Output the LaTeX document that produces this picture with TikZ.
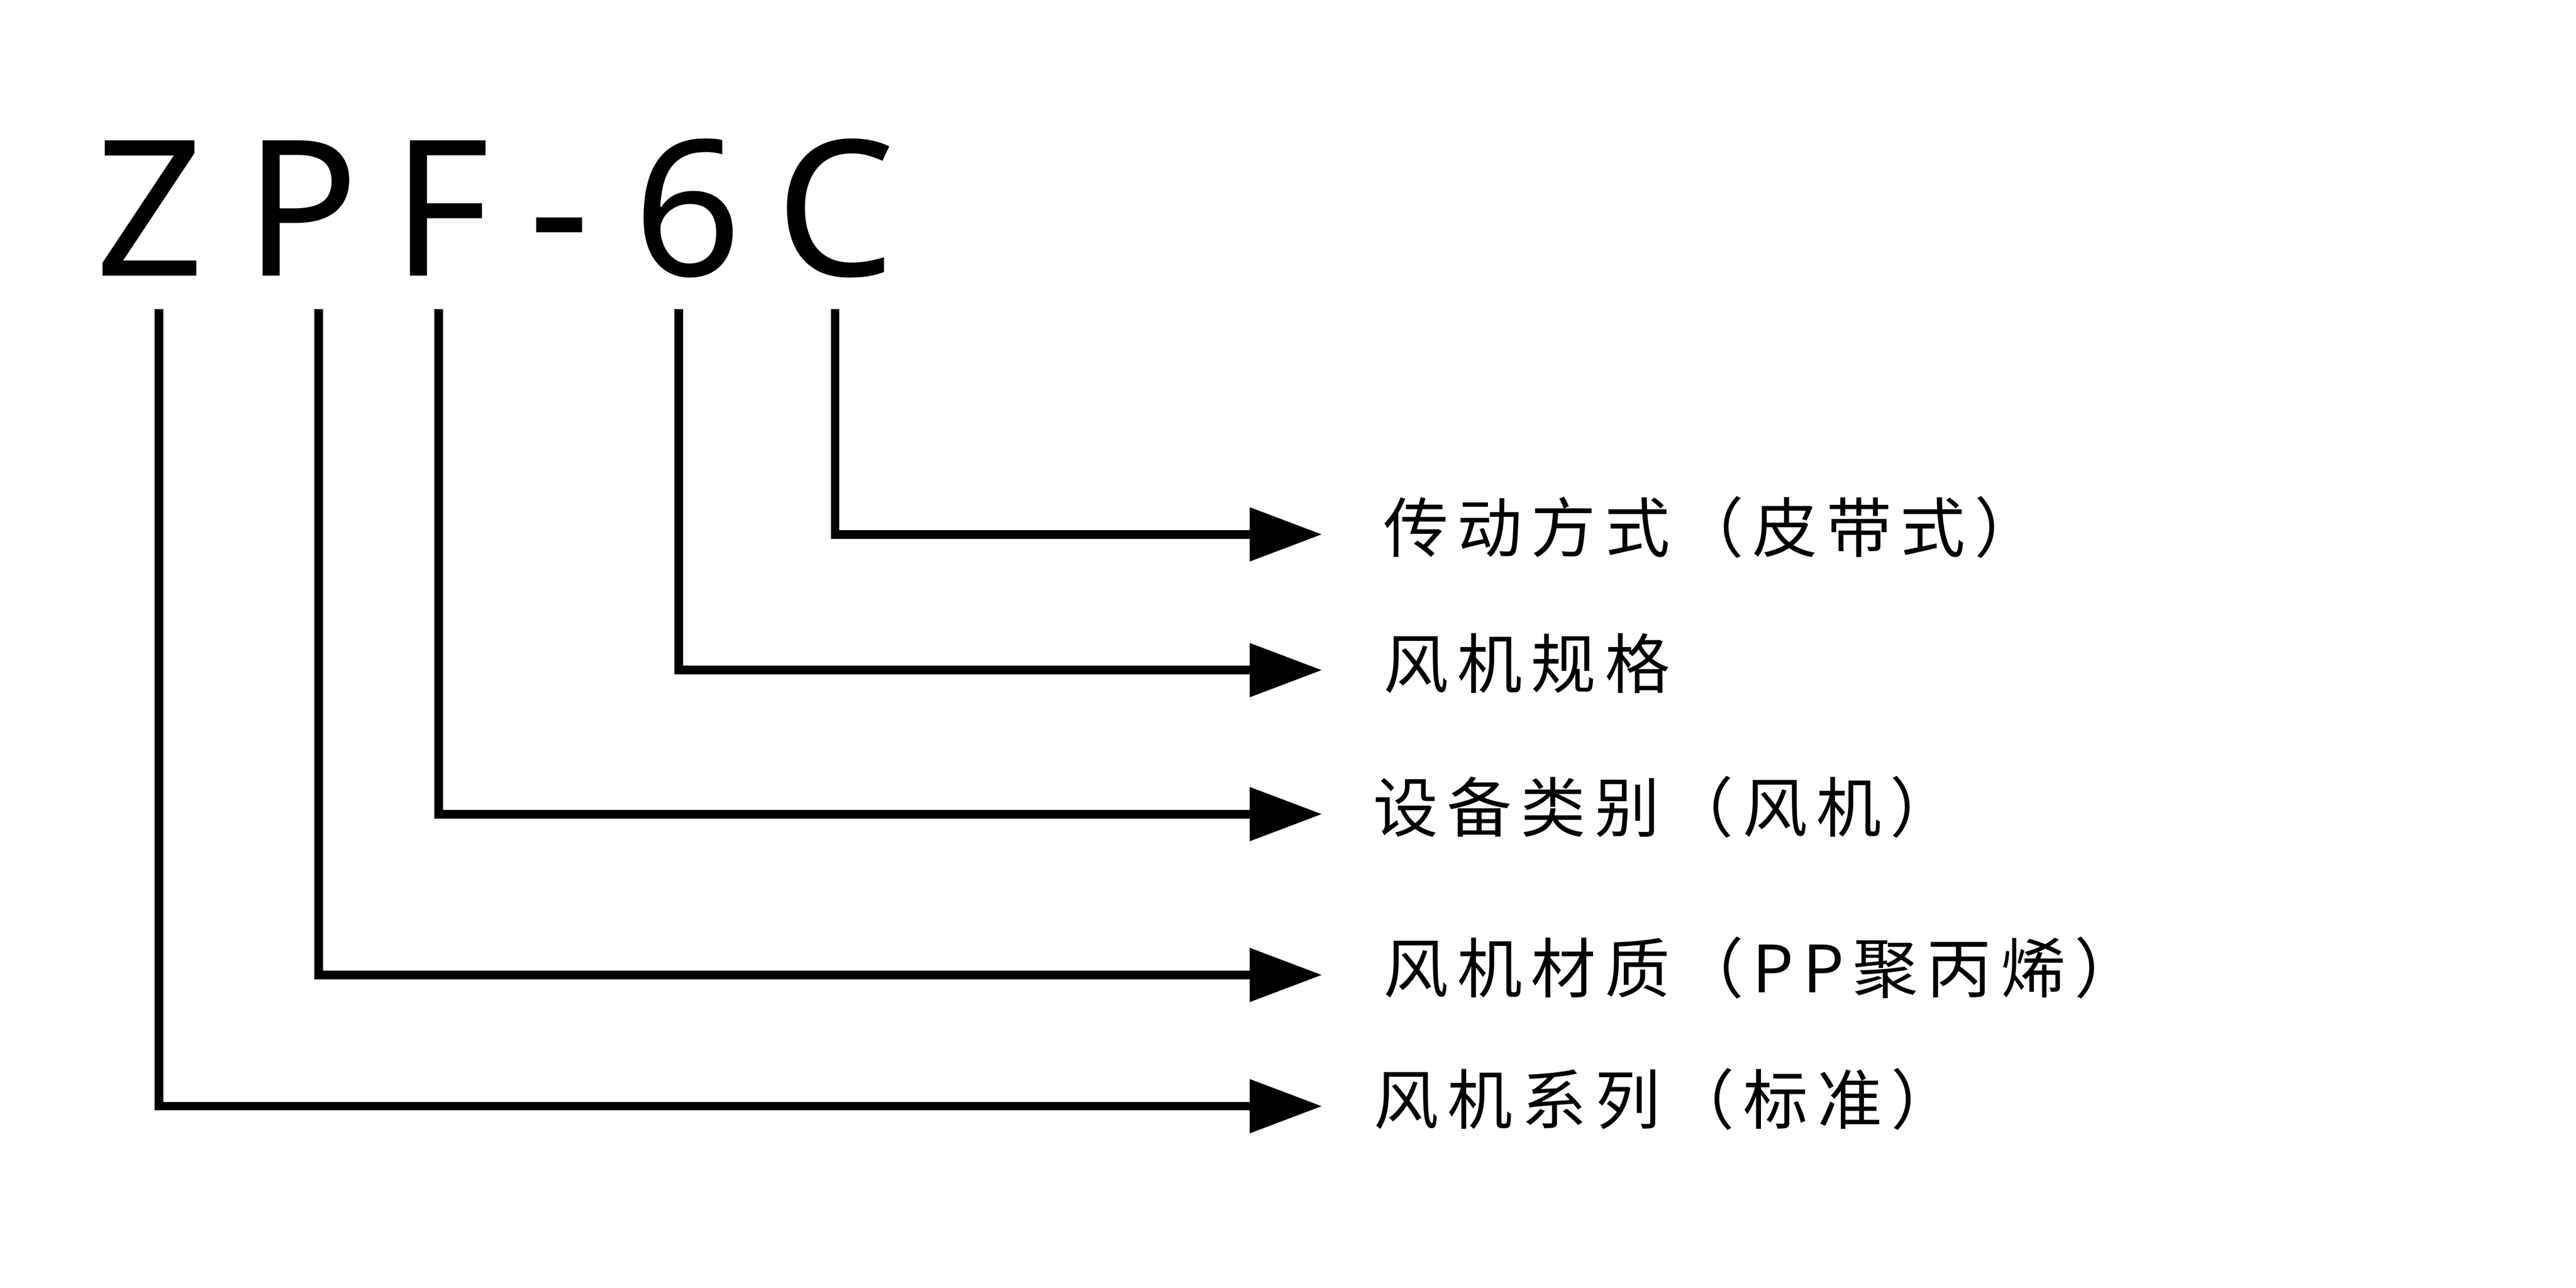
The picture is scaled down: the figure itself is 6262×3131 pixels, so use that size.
\documentclass[tikz,border=0pt]{standalone}
\usepackage{fontspec}
\usetikzlibrary{arrows.meta}
\newfontfamily\cjk[LetterSpace=13.5]{Noto Sans CJK SC}
\newfontfamily\titlefont{Noto Sans}
\tikzstyle{letter}=[inner sep=0pt, anchor=base, font=\titlefont\fontsize{131pt}{131pt}\selectfont]
\tikzstyle{lbl}=[inner sep=0pt, anchor=west, font=\cjk\fontsize{45pt}{45pt}\selectfont]
\tikzstyle{lead}=[line width=0.21cm, -{Triangle[length=1.76cm,width=1.26cm]}]

\begin{document}
\begin{tikzpicture}[x=0.01cm,y=-0.01cm]
        \useasboundingbox (0,0) rectangle (6262,3131);
        % model code
        \node [letter] (z) at (364,671) {Z};
        \node [letter] (p) at (733,671) {P};
        \node [letter] (f) at (1072,671) {F};
        \node [letter] (dash) at (1360,671) {-};
        \node [letter] (six) at (1672,671) {6};
        \node [letter] (c) at (2031,671) {C};

        % line starts below the letters
        \coordinate (z0) at (386,752);
        \coordinate (p0) at (775,752);
        \coordinate (f0) at (1066,752);
        \coordinate (six0) at (1650,752);
        \coordinate (c0) at (2030,752);

        % arrow tips
        \coordinate (ztip) at (3214,2689);
        \coordinate (ptip) at (3214,2370);
        \coordinate (ftip) at (3214,1979);
        \coordinate (sixtip) at (3214,1629);
        \coordinate (ctip) at (3214,1299);

        \node [lbl] (cl) at (3362,1282) {传动方式（皮带式）};
        \node [lbl] (sixl) at (3362,1612) {风机规格};
        \node [lbl] (fl) at (3337,1962) {设备类别（风机）};
        \node [lbl] (pl) at (3362,2353) {风机材质（PP聚丙烯）};
        \node [lbl] (zl) at (3339,2672) {风机系列（标准）};

        \draw [lead] (c0) |- (ctip);
        \draw [lead] (six0) |- (sixtip);
        \draw [lead] (f0) |- (ftip);
        \draw [lead] (p0) |- (ptip);
        \draw [lead] (z0) |- (ztip);
\end{tikzpicture}
\end{document}
